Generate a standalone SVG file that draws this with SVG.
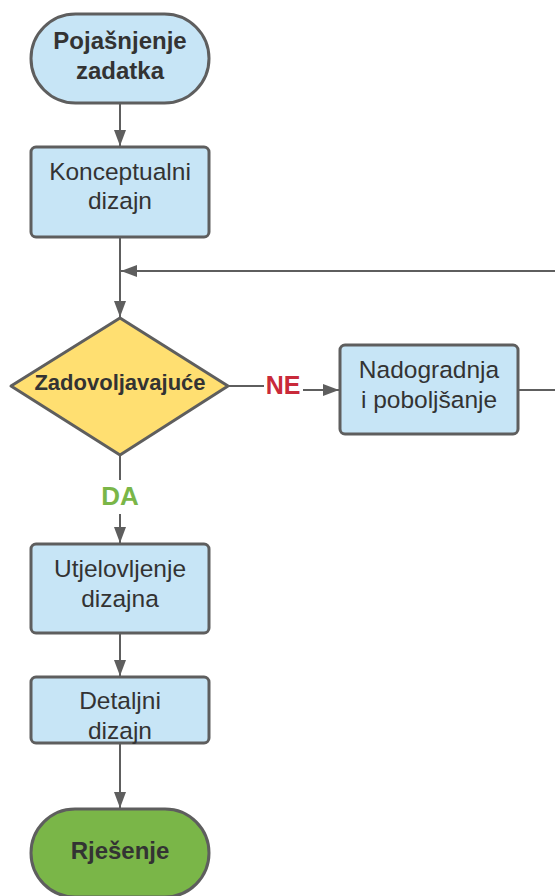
<svg xmlns="http://www.w3.org/2000/svg" width="555" height="896" viewBox="0 0 555 896">
<style>
.box{fill:#c7e5f6;stroke:#5e5e5e;stroke-width:3}
.t{font-family:"Liberation Sans",Arial,sans-serif;fill:#333;text-anchor:middle}
.r{font-size:24.5px}
.b{font-size:24px;font-weight:bold}
.c{fill:none;stroke:#5e5e5e;stroke-width:2}
</style>
<defs>
<marker id="ah" viewBox="0 0 16 12" refX="16" refY="6" markerWidth="16" markerHeight="12" markerUnits="userSpaceOnUse" orient="auto">
<path d="M0,0 L16,6 L0,12 Z" fill="#5e5e5e"/>
</marker>
</defs>
<g id="connectors">
<path class="c" d="M120,103 V146" marker-end="url(#ah)"/>
<path class="c" d="M120,237 V317" marker-end="url(#ah)"/>
<path class="c" d="M555,271 H121" marker-end="url(#ah)"/>
<path class="c" d="M228,386 H264"/>
<path class="c" d="M303,390 H339" marker-end="url(#ah)"/>
<path class="c" d="M518,390 H555"/>
<path class="c" d="M120,455 V480"/>
<path class="c" d="M120,514 V543" marker-end="url(#ah)"/>
<path class="c" d="M120,633 V676" marker-end="url(#ah)"/>
<path class="c" d="M120,743 V808" marker-end="url(#ah)"/>
<text class="t" x="283" y="394" style="font-size:25px;font-weight:bold;fill:#c92a3a">NE</text>
<text class="t" x="120" y="505" style="font-size:26px;font-weight:bold;fill:#7ab648">DA</text>
</g>
<g id="start">
<rect class="box" x="31" y="14" width="178" height="89" rx="44.5"/>
<text class="t b" x="120" y="49">Pojašnjenje</text>
<text class="t b" x="120" y="79">zadatka</text>
</g>
<g id="konceptualni">
<rect class="box" x="31" y="147" width="178" height="90" rx="5"/>
<text class="t r" x="120" y="180">Konceptualni</text>
<text class="t r" x="120" y="209">dizajn</text>
</g>
<g id="decision">
<path d="M120,318 L228,386 L120,455 L11,386 Z" fill="#ffdf71" stroke="#5e5e5e" stroke-width="3" stroke-linejoin="round"/>
<text class="t" x="120" y="390" style="font-size:22px;font-weight:bold">Zadovoljavajuće</text>
</g>
<g id="nadogradnja">
<rect class="box" x="340" y="345" width="178" height="89" rx="5"/>
<text class="t r" x="429" y="378">Nadogradnja</text>
<text class="t r" x="429" y="408">i poboljšanje</text>
</g>
<g id="utjelovljenje">
<rect class="box" x="31" y="544" width="178" height="89" rx="5"/>
<text class="t r" x="120" y="577">Utjelovljenje</text>
<text class="t r" x="120" y="607">dizajna</text>
</g>
<g id="detaljni">
<rect class="box" x="31" y="677" width="178" height="66" rx="5"/>
<text class="t r" x="120" y="709">Detaljni</text>
<text class="t r" x="120" y="739">dizajn</text>
</g>
<g id="rjesenje">
<rect x="31" y="809" width="178" height="88" rx="44" fill="#7ab648" stroke="#5e5e5e" stroke-width="3"/>
<text class="t b" x="120" y="859">Rješenje</text>
</g>
</svg>
